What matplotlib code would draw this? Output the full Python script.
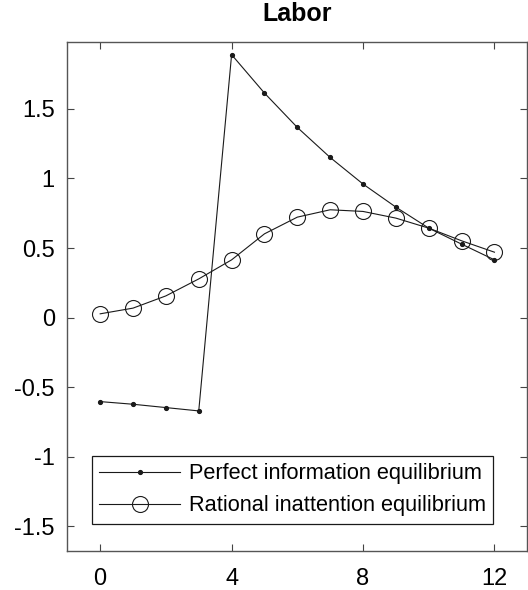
import numpy as np
import matplotlib.pyplot as plt

plt.rcParams['font.family'] = ['Liberation Sans', 'DejaVu Sans']

periods = np.arange(13)
perfect_info = [-0.604, -0.623, -0.647, -0.671, 1.89, 1.614, 1.367, 1.151,
                0.96, 0.794, 0.643, 0.528, 0.415]
rational_inatt = [0.027, 0.068, 0.156, 0.278, 0.415, 0.602, 0.722, 0.775,
                  0.763, 0.715, 0.643, 0.552, 0.47]

x_ticks = [0, 4, 8, 12]
y_ticks = [-1.5, -1, -0.5, 0, 0.5, 1, 1.5]
y_ticklabels = ['-1.5', '-1', '-0.5', '0', '0.5', '1', '1.5']

fig = plt.figure(figsize=(5.28, 5.90), dpi=100)
ax = fig.add_axes([0.1275, 0.0661, 0.8712, 0.8627])

ax.plot(periods, perfect_info, color='#1a1a1a', lw=0.8, marker='.',
        markersize=5.5, label='Perfect information equilibrium')
ax.plot(periods, rational_inatt, color='#1a1a1a', lw=0.8, marker='o',
        markersize=11.5, markerfacecolor='none', markeredgewidth=0.8,
        label='Rational inattention equilibrium')

ax.set_xlim(-1, 13)
ax.set_ylim(-1.678, 1.981)
ax.set_xticks(x_ticks)
ax.set_yticks(y_ticks)
ax.set_yticklabels(y_ticklabels)
ax.tick_params(direction='in', length=5, width=0.8, color='#444444',
               labelsize=17, top=True, right=True)
ax.tick_params(axis='x', pad=12)
ax.tick_params(axis='y', pad=9)
for s in ax.spines.values():
    s.set_color('#555555')
    s.set_linewidth(1.0)

ax.set_title('Labor', fontsize=18, fontweight='bold', pad=15)

leg = ax.legend(loc='lower left', bbox_to_anchor=(0.053, 0.053), borderaxespad=0,
                fontsize=15.7, fancybox=False, edgecolor='#1a1a1a', framealpha=1,
                handlelength=3.7, handletextpad=0.4, labelspacing=0.5,
                borderpad=0.35)
leg.get_frame().set_linewidth(0.9)

fig.savefig('out.png', dpi=100)
